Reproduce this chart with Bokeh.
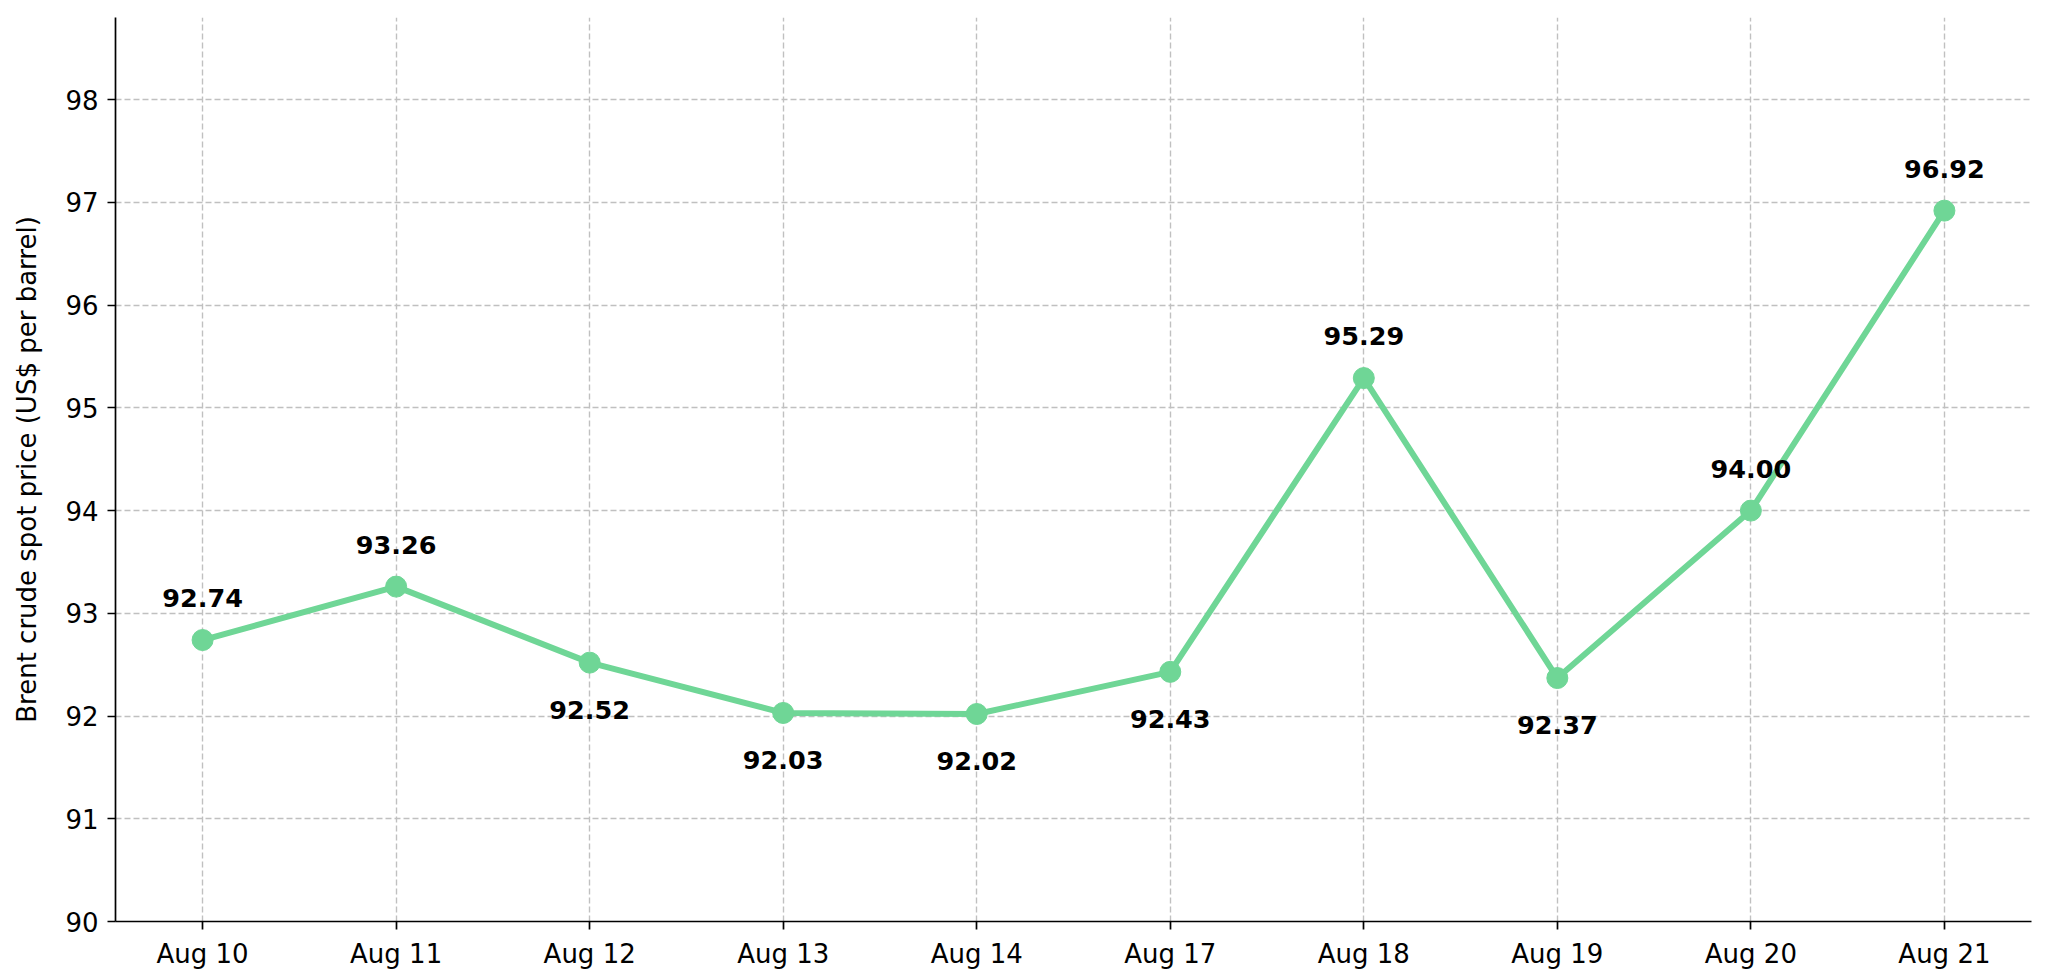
from bokeh.plotting import figure
from bokeh.models import ColumnDataSource, Range1d, FixedTicker
from bokeh.core.properties import value
from bokeh.embed import file_html
from bokeh.resources import INLINE

dates = ["Aug 10", "Aug 11", "Aug 12", "Aug 13", "Aug 14",
         "Aug 17", "Aug 18", "Aug 19", "Aug 20", "Aug 21"]
prices = [92.74, 93.26, 92.52, 92.03, 92.02, 92.43, 95.29, 92.37, 94.00, 96.92]
label_above = [True, True, False, False, False, False, True, False, True, True]
y_ticks = [90, 91, 92, 93, 94, 95, 96, 97, 98]

COLOR = "#6FD696"
FONT = "DejaVu Sans"

xs = list(range(len(dates)))
src = ColumnDataSource(dict(
    x=xs, y=prices,
    label=[f"{v:.2f}" for v in prices],
    yoff=[-42 if a else 47 for a in label_above],
))

p = figure(width=2040, height=972, output_backend="svg", toolbar_location=None,
           x_range=Range1d(-0.45, 9.45), y_range=Range1d(90, 98.8),
           min_border_left=115, min_border_right=9, min_border_top=17,
           min_border_bottom=51)
p.outline_line_color = None
p.background_fill_color = "white"
p.border_fill_color = "white"

p.line("x", "y", source=src, line_color=COLOR, line_width=6)
p.scatter("x", "y", source=src, size=21, fill_color=COLOR, line_color=COLOR)
p.text("x", "y", text="label", source=src, y_offset="yoff",
       text_align="center", text_baseline="alphabetic",
       text_font=value(FONT), text_font_size="25.5px", text_font_style="bold",
       text_color="black")

p.xaxis.ticker = FixedTicker(ticks=xs)
p.xaxis.major_label_overrides = {i: d for i, d in enumerate(dates)}
p.yaxis.ticker = FixedTicker(ticks=y_ticks)

for ax in (p.xaxis[0], p.yaxis[0]):
    ax.axis_line_color = "black"
    ax.axis_line_width = 1.7
    ax.major_tick_line_color = "black"
    ax.major_tick_line_width = 1.7
    ax.major_tick_out = 8
    ax.major_tick_in = 0
    ax.minor_tick_line_color = None
    ax.major_label_text_font = FONT
    ax.major_label_text_font_size = "26px"
    ax.major_label_text_color = "black"
    ax.major_label_standoff = 9

p.yaxis.axis_label = "Brent crude spot price (US$ per barrel)"
p.yaxis.axis_label_text_font = FONT
p.yaxis.axis_label_text_font_size = "26px"
p.yaxis.axis_label_text_font_style = "normal"
p.yaxis.axis_label_text_color = "black"
p.yaxis.axis_label_standoff = 20

for g in (p.xgrid[0], p.ygrid[0]):
    g.grid_line_color = "#c0c0c0"
    g.grid_line_width = 1.4
    g.grid_line_dash = "6 3"

open("out.html", "w").write(file_html(p, INLINE))
